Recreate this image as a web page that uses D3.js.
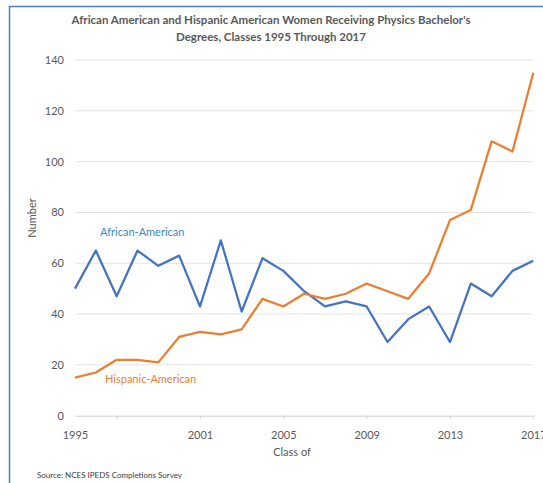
<!DOCTYPE html>
<html>
<head>
<meta charset="utf-8">
<script src="https://cdn.jsdelivr.net/npm/d3@7"></script>
<style>
  body { margin: 0; background: #fff; }
  text { font-family: Lato, "Open Sans", sans-serif; }
</style>
</head>
<body>
<div id="chart"></div>
<script>
// values
var years = d3.range(1995, 2018);
var africanAmerican = [50, 65, 47, 65, 59, 63, 43, 69, 41, 62, 57, 49, 43, 45, 43, 29, 38, 43, 29, 52, 47, 57, 61];
var hispanicAmerican = [15, 17, 22, 22, 21, 31, 33, 32, 34, 46, 43, 48, 46, 48, 52, 49, 46, 56, 77, 81, 108, 104, 135];
var yTicks = [0, 20, 40, 60, 80, 100, 120, 140];
var xLabels = [1995, 2001, 2005, 2009, 2013, 2017];
var xTickMarks = [1997, 2001, 2005, 2009, 2013, 2017];

var W = 543, H = 483;
var svg = d3.select("#chart").append("svg")
    .attr("width", W)
    .attr("height", H);

// frame (selected chart outline)
svg.append("path")
    .attr("d", "M9.5," + H + "V6.5H" + W)
    .attr("fill", "none")
    .attr("stroke", "#4a7fd6")
    .attr("stroke-width", 1.5);

var x = d3.scaleLinear().domain([1995, 2017]).range([75, 533.3]);
var y = d3.scaleLinear().domain([0, 140]).range([415.7, 60]);

// gridlines
svg.append("g")
    .selectAll("line")
    .data(yTicks.filter(function(d) { return d > 0; }))
    .enter()
    .append("line")
    .attr("x1", 75).attr("x2", 533.3)
    .attr("y1", function(d) { return y(d); })
    .attr("y2", function(d) { return y(d); })
    .attr("stroke", "#e3e3e3")
    .attr("stroke-width", 1);

// y axis labels
var yAxis = svg.append("g")
    .attr("transform", "translate(64,0)")
    .call(d3.axisLeft(y).tickValues(yTicks).tickSize(0).tickPadding(0));
yAxis.select(".domain").remove();
yAxis.selectAll("text")
    .style("font-family", "Lato, sans-serif")
    .style("font-size", "11px")
    .attr("fill", "#595959");

// x axis line + tick marks
var xAxis = svg.append("g")
    .attr("transform", "translate(0," + y(0) + ")")
    .call(d3.axisBottom(x).tickValues(xTickMarks).tickSize(3).tickFormat(""));
xAxis.select(".domain")
    .attr("stroke", "#d0d0d0")
    .attr("d", "M75,0.5H533.3");
xAxis.selectAll(".tick line").attr("stroke", "#d0d0d0");

// x axis labels
var xLab = svg.append("g")
    .attr("transform", "translate(0," + (y(0) + 12) + ")")
    .call(d3.axisBottom(x).tickValues(xLabels).tickSize(0).tickFormat(d3.format("d")));
xLab.select(".domain").remove();
xLab.selectAll("text")
    .style("font-family", "Lato, sans-serif")
    .style("font-size", "11px")
    .attr("fill", "#595959");

// lines
var line = d3.line()
    .x(function(d, i) { return x(years[i]); })
    .y(function(d) { return y(d); });

svg.append("path")
    .datum(africanAmerican)
    .attr("d", line)
    .attr("fill", "none")
    .attr("stroke", "#4472C4")
    .attr("stroke-width", 2.25)
    .attr("stroke-linejoin", "round");

svg.append("path")
    .datum(hispanicAmerican)
    .attr("d", line)
    .attr("fill", "none")
    .attr("stroke", "#ED7D31")
    .attr("stroke-width", 2.25)
    .attr("stroke-linejoin", "round");

// series labels
svg.append("text")
    .attr("x", 100).attr("y", 236)
    .attr("fill", "#3a86d4")
    .style("font-size", "11px")
    .text("African-American");

svg.append("text")
    .attr("x", 105).attr("y", 383)
    .attr("fill", "#ED7D31")
    .style("font-size", "11px")
    .text("Hispanic-American");

// title
var title = svg.append("text")
    .attr("x", 271)
    .attr("y", 24)
    .attr("text-anchor", "middle")
    .attr("fill", "#595959")
    .style("font-size", "11.5px")
    .style("font-weight", "bold");
title.append("tspan").attr("x", 271).text("African American and Hispanic American Women Receiving Physics Bachelor's");
title.append("tspan").attr("x", 271).attr("dy", 17).text("Degrees, Classes 1995 Through 2017");

// axis titles
svg.append("text")
    .attr("transform", "translate(36,218) rotate(-90)")
    .attr("text-anchor", "middle")
    .attr("fill", "#595959")
    .style("font-size", "11px")
    .text("Number");

svg.append("text")
    .attr("x", 292).attr("y", 456)
    .attr("text-anchor", "middle")
    .attr("fill", "#595959")
    .style("font-size", "11px")
    .text("Class of");

svg.append("text")
    .attr("x", 37).attr("y", 478)
    .attr("fill", "#404040")
    .style("font-size", "8px")
    .text("Source: NCES IPEDS Completions Survey");
</script>
</body>
</html>
